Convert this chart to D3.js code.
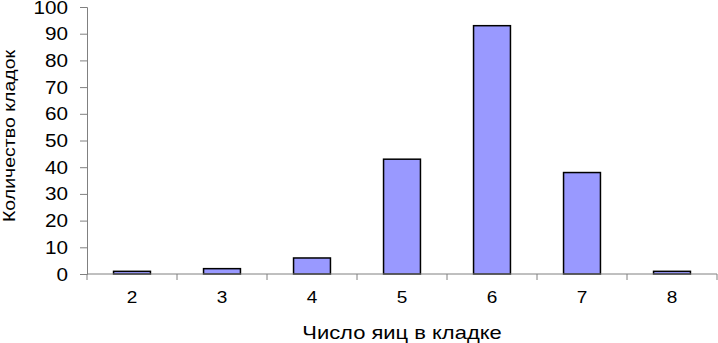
<!DOCTYPE html>
<html><head><meta charset="utf-8">
<script src="https://cdn.jsdelivr.net/npm/d3@7"></script>
<style>body{margin:0;background:#fff}svg{display:block}text{font-family:"Liberation Sans",Arial,sans-serif;fill:#000}</style>
</head><body><svg id="c" width="718" height="343"></svg>
<script>
const categories = ["2","3","4","5","6","7","8"];
const values = [1, 2, 6, 43, 93, 38, 1];
const yTicks = [0,10,20,30,40,50,60,70,80,90,100];
const xTitle = "Число яиц в кладке";
const yTitle = "Количество кладок";

(function(){
const svg = d3.select("#c");
const mLeft = 87, mRight = 717, mTop = 7, mBottom = 274;
const x = d3.scaleBand().domain(categories).range([mLeft, mRight]).paddingInner(0.59).paddingOuter(0.295);
const y = d3.scaleLinear().domain([0, 100]).range([mBottom, mTop]);

svg.append("g").selectAll("rect").data(categories).join("rect")
  .attr("x", d => x(d)).attr("width", x.bandwidth())
  .attr("y", (d,i) => y(values[i])).attr("height", (d,i) => y(0) - y(values[i]))
  .attr("fill", "#9999FF").attr("stroke", "#000").attr("stroke-width", 1.5);

// y axis: line and ticks via d3 axis, labels drawn with horizontal stretch
const ya = svg.append("g").attr("transform", `translate(${mLeft},0)`)
  .call(d3.axisLeft(y).tickValues(yTicks).tickSize(7).tickFormat(""));
ya.select(".domain").attr("stroke", "#808080");
ya.selectAll(".tick line").attr("stroke", "#808080");
svg.append("g").selectAll("text").data(yTicks).join("text")
  .attr("transform", d => `translate(68,${y(d) + 6.5}) scale(1.15,1)`)
  .attr("text-anchor", "end").attr("font-size", 18).text(d => d3.format("d")(d));

// x axis
const xa = svg.append("g").attr("transform", `translate(0,${mBottom})`);
xa.append("line").attr("x1", mLeft).attr("x2", mRight).attr("stroke", "#808080");
const bounds = d3.range(categories.length + 1).map(i => mLeft + i * (mRight - mLeft) / categories.length);
xa.selectAll(".b").data(bounds).join("line").attr("class","b")
  .attr("x1", d => d).attr("x2", d => d).attr("y1", 0).attr("y2", 6).attr("stroke", "#808080");
xa.selectAll("text").data(categories).join("text")
  .attr("transform", d => `translate(${x(d) + x.bandwidth()/2},29) scale(1.12,1)`)
  .attr("text-anchor", "middle").attr("font-size", 17).text(d => d);

svg.append("text").attr("transform", "translate(402,339) scale(1.22,1)")
  .attr("text-anchor", "middle").attr("font-size", 18).text(xTitle);
svg.append("text").attr("transform", "translate(15,136) rotate(-90) scale(1.15,1)")
  .attr("text-anchor", "middle").attr("font-size", 17).text(yTitle);
})();
</script></body></html>
